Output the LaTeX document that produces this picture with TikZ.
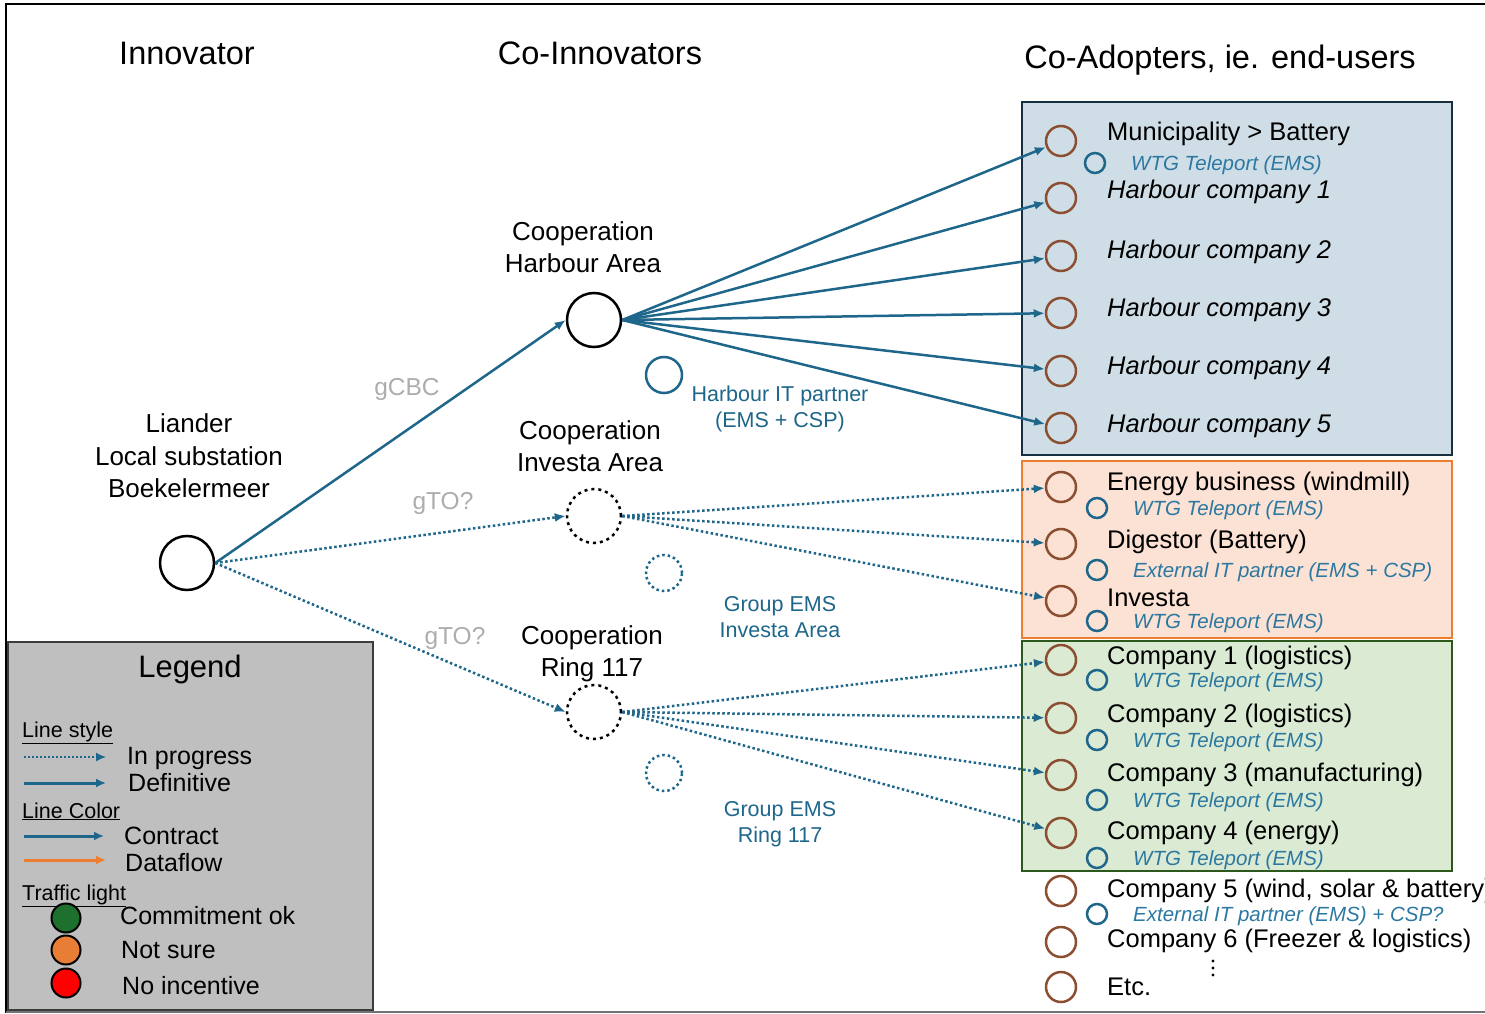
\documentclass[tikz,border=0pt]{standalone}
\usepackage{fontspec}
\setmainfont{Liberation Sans}
\usetikzlibrary{arrows.meta,positioning}

\definecolor{contract}{RGB}{30,102,138}
\definecolor{itblue}{RGB}{44,120,160}
\definecolor{userbrown}{RGB}{140,78,48}
\definecolor{boxblue}{RGB}{207,222,230}
\definecolor{edgeblue}{RGB}{22,48,66}
\definecolor{boxorange}{RGB}{251,226,213}
\definecolor{edgeorange}{RGB}{237,125,49}
\definecolor{boxgreen}{RGB}{218,234,211}
\definecolor{edgegreen}{RGB}{44,88,30}
\definecolor{legendgray}{RGB}{191,191,191}
\definecolor{legendedge}{RGB}{60,60,60}
\definecolor{flow}{RGB}{237,125,49}
\definecolor{okgreen}{RGB}{30,112,46}
\definecolor{unsure}{RGB}{232,125,54}

\tikzset{
	hub/.style={circle, draw=black, line width=2.5pt, minimum size=54pt, inner sep=0pt},
	hubplan/.style={hub, dash pattern=on 3pt off 4pt},
	user/.style={circle, draw=userbrown, line width=2.5pt, minimum size=30pt, inner sep=0pt},
	partner/.style={circle, draw=contract, line width=2.5pt, inner sep=0pt},
	defi/.style={draw=contract, line width=2.5pt, -{Latex[length=11pt,width=9pt]}},
	prog/.style={defi, dash pattern=on 2.5pt off 2.5pt},
	head/.style={font=\fontsize{32.5}{39}\selectfont, inner sep=0pt},
	txt/.style={font=\fontsize{26}{32.5}\selectfont, align=center, inner sep=0pt},
	itlbl/.style={font=\fontsize{21.5}{25.5}\selectfont, text=contract, align=center, inner sep=0pt},
	glbl/.style={font=\fontsize{24.5}{29}\selectfont, text=black!32, inner sep=0pt},
	userlbl/.style={font=\fontsize{25.5}{30}\selectfont, anchor=base west, inner sep=0pt},
	sublbl/.style={font=\fontsize{20.5}{24}\selectfont\itshape, text=itblue, anchor=base west, inner sep=0pt},
	legsub/.style={font=\fontsize{21.5}{26}\selectfont, anchor=base west, inner sep=0pt},
	legitem/.style={font=\fontsize{25}{30}\selectfont, anchor=base west, inner sep=0pt},
	light/.style={circle, draw=black, line width=2pt, minimum size=29pt, inner sep=0pt}
}

\begin{document}
\begin{tikzpicture}[x=1pt,y=-1pt]
	\useasboundingbox (0,0) rectangle (1485,1014);
	%%%%% FRAME %%%%%
	\draw[line width=2.5pt] (6,1013) -- (6,4) -- (1485,4);
	\draw[black!55, line width=2pt] (6,1012) -- (1485,1012);
	
	%%%%% HEADERS %%%%%
	\node[head] (hinnov) at (187,53) {Innovator};
	\node[head] (hcoinnov) at (600,53) {Co-Innovators};
	\node[head] (hadopt) at (1220,60) {Co-Adopters, ie. end-users};
	
	%%%%% END-USER BOXES %%%%%
	\draw[fill=boxblue, draw=edgeblue, line width=2.5pt] (1022,102) rectangle (1452,455);
	\draw[fill=boxorange, draw=edgeorange, line width=2pt] (1022,461) rectangle (1452,638);
	\draw[fill=boxgreen, draw=edgegreen, line width=2pt] (1022,641) rectangle (1452,871);
	
	%%%%% HUBS %%%%%
	\node[hub] (liander) at (187,563) {};
	\node[hub] (harbour) at (594,320) {};
	\node[hubplan] (investa) at (594,516) {};
	\node[hubplan] (ring) at (594,712) {};
	
	\node[txt] (lianderlbl) at (189,456) {Liander\\Local substation\\Boekelermeer};
	\node[txt] (harbourlbl) at (583,247) {Cooperation\\Harbour Area};
	\node[txt] (investalbl) at (590,446) {Cooperation\\Investa Area};
	\node[txt] (ringlbl) at (592,654) {Cooperation\\Ring 117};
	
	\node[partner, minimum size=36pt] (harbourit) at (664,375) {};
	\node[partner, minimum size=36pt, dash pattern=on 2.5pt off 3pt] (investaems) at (664,573) {};
	\node[partner, minimum size=36pt, dash pattern=on 2.5pt off 3pt] (ringems) at (664,773) {};
	\node[itlbl] (harbouritlbl) at (780,409) {Harbour IT partner\\(EMS + CSP)};
	\node[itlbl] (investaemslbl) at (780,617) {Group EMS\\Investa Area};
	\node[itlbl] (ringemslbl) at (780,824) {Group EMS\\Ring 117};
	
	\node[glbl] (gcbc) at (407,389) {gCBC};
	\node[glbl] (gto1) at (443,503) {gTO?};
	\node[glbl] (gto2) at (455,638) {gTO?};
	
	%%%%% END USERS %%%%%
	\foreach \n/\y/\b/\txt in {h0/141/140/{Municipality > Battery}, h1/198/198/{\itshape Harbour company 1},
		h2/256/258/{\itshape Harbour company 2}, h3/313/316/{\itshape Harbour company 3},
		h4/371/374/{\itshape Harbour company 4}, h5/428/432/{\itshape Harbour company 5},
		i1/487/490/{Energy business (windmill)}, i2/544/548/{Digestor (Battery)}, i3/601/606/{Investa},
		r1/660/664/{Company 1 (logistics)}, r2/718/722/{Company 2 (logistics)},
		r3/775/781/{Company 3 (manufacturing)}, r4/833/839/{Company 4 (energy)},
		o1/891/897/{Company 5 (wind, solar \& battery)}, o2/942/947/{Company 6 (Freezer \& logistics)}, o3/987/995/{Etc.}}
	{
		\node[user] (\n) at (1061,\y) {};
		\node[userlbl] (\n-lbl) at (1107,\b) {\txt};
	}
	
	\foreach \x/\y/\txt in {1095/163/{WTG Teleport (EMS)}, 1097/508/{WTG Teleport (EMS)},
		1097/570/{External IT partner (EMS + CSP)}, 1097/621/{WTG Teleport (EMS)},
		1097/680/{WTG Teleport (EMS)}, 1097/740/{WTG Teleport (EMS)},
		1097/800/{WTG Teleport (EMS)}, 1097/858/{WTG Teleport (EMS)},
		1097/914/{External IT partner (EMS) + CSP?}}
	{
		\node[partner, minimum size=20pt] (p\y) at (\x,\y) {};
		\node[sublbl] (p\y-lbl) at (\x+36,\y+7) {\txt};
	}
	% more users
	\foreach \y in {961,968,975} \fill (1213,\y) circle (1.6);
	
	%%%%% CONNECTORS %%%%%
	\draw[defi] (liander.east) -- (harbour.west);
	\draw[prog] (liander.east) -- (investa.west);
	\draw[prog] (liander.east) -- (ring.west);
	\foreach \i in {0,...,5} \draw[defi] (harbour.east) -- (h\i);
	\foreach \i in {1,2,3} \draw[prog] (investa.east) -- (i\i);
	\foreach \i in {1,...,4} \draw[prog] (ring.east) -- (r\i);
	
	%%%%% LEGEND %%%%%
	\draw[fill=legendgray, draw=legendedge, line width=2pt] (8,642) rectangle (373,1010);
	\node[font=\fontsize{31}{37}\selectfont, inner sep=0pt] (legtitle) at (190,669) {Legend};
	\node[legsub] (lstyle) at (22,737) {\underline{Line style}};
	\node[legsub] (lcolor) at (22,818) {\underline{Line Color}};
	\node[legsub] (llight) at (22,900) {\underline{Traffic light}};
	\draw[prog, line width=1.5pt, dash pattern=on 2pt off 2pt, -{Latex[length=10pt,width=9pt]}] (24,757) -- (106,757);
	\draw[defi, line width=3pt, -{Latex[length=10pt,width=9pt]}] (24,783) -- (106,783);
	\draw[defi, line width=3pt, -{Latex[length=10pt,width=9pt]}] (24,836) -- (104,836);
	\draw[defi, line width=3pt, draw=flow, -{Latex[length=10pt,width=9pt]}] (24,860) -- (106,860);
	\node[legitem] (linprog) at (127,764) {In progress};
	\node[legitem] (ldefi) at (128,791) {Definitive};
	\node[legitem] (lcontract) at (124,844) {Contract};
	\node[legitem] (lflow) at (125,871) {Dataflow};
	\node[light, fill=okgreen] (lok) at (66,918) {};
	\node[light, fill=unsure] (lnot) at (66,950) {};
	\node[light, fill=red] (lno) at (66,983) {};
	\node[legitem] (lokt) at (120,924) {Commitment ok};
	\node[legitem] (lnott) at (121,958) {Not sure};
	\node[legitem] (lnot) at (122,994) {No incentive};
\end{tikzpicture}
\end{document}
